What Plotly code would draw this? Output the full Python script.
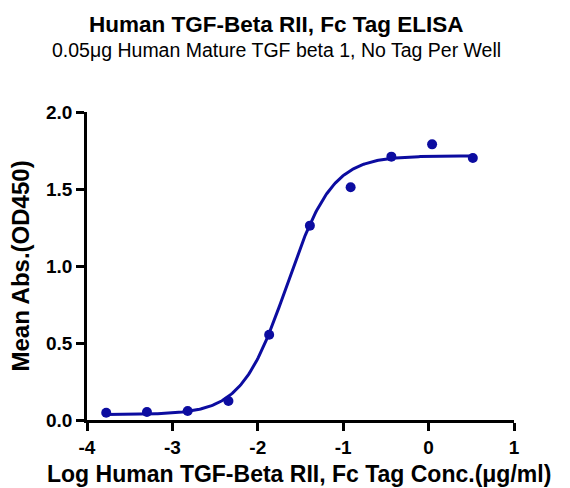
import numpy as np
import plotly.graph_objects as go

# Data
log_conc = [-3.775, -3.298, -2.821, -2.344, -1.867, -1.390, -0.913, -0.436, 0.041, 0.518]
mean_abs = [0.047, 0.052, 0.058, 0.123, 0.554, 1.262, 1.511, 1.710, 1.790, 1.701]

# 4-parameter logistic fit parameters (bottom, top, logEC50, hill slope)
fit_bottom = 0.035
fit_top = 1.715
fit_logec50 = -1.66
fit_hill = 1.64

x_ticks = [-4, -3, -2, -1, 0, 1]
y_ticks = [0.0, 0.5, 1.0, 1.5, 2.0]

title_text = "Human TGF-Beta RII, Fc Tag ELISA"
subtitle_text = "0.05μg Human Mature TGF beta 1, No Tag Per Well"
x_title = "Log Human TGF-Beta RII, Fc Tag Conc.(μg/ml)"
y_title = "Mean Abs.(OD450)"

xf = np.linspace(min(log_conc), max(log_conc), 300)
yf = fit_bottom + (fit_top - fit_bottom) / (1 + 10 ** ((fit_logec50 - xf) * fit_hill))

blue = "#0c0ca0"
font_family = "Liberation Sans, Arial, sans-serif"

fig = go.Figure()
fig.add_trace(go.Scatter(x=xf, y=yf, mode="lines",
                         line=dict(color=blue, width=3), hoverinfo="skip",
                         showlegend=False))
fig.add_trace(go.Scatter(x=log_conc, y=mean_abs, mode="markers",
                         marker=dict(color=blue, size=10),
                         showlegend=False, cliponaxis=False))

fig.update_layout(
    width=570, height=488,
    margin=dict(l=79, r=64, t=104, b=76),
    paper_bgcolor="white", plot_bgcolor="white",
    font=dict(family=font_family, color="black"),
    showlegend=False,
    annotations=[
        dict(text="<b>%s</b>" % title_text, x=0.443, y=1.284,
             xref="paper", yref="paper", xanchor="center", yanchor="middle",
             showarrow=False, font=dict(size=22.5, family=font_family, color="black")),
        dict(text=subtitle_text, x=0.443, y=1.200,
             xref="paper", yref="paper", xanchor="center", yanchor="middle",
             showarrow=False, font=dict(size=19.5, family=font_family, color="black")),
        dict(text="<b>%s</b>" % x_title, x=0.497, y=-0.176,
             xref="paper", yref="paper", xanchor="center", yanchor="middle",
             showarrow=False, font=dict(size=23, family=font_family, color="black")),
        dict(text="<b>%s</b>" % y_title, x=-0.158, y=0.5, textangle=-90,
             xref="paper", yref="paper", xanchor="center", yanchor="middle",
             showarrow=False, font=dict(size=24, family=font_family, color="black")),
    ],
)

fig.update_xaxes(
    range=[-4, 1], tickvals=x_ticks, ticktext=["<b>%d</b>" % v for v in x_ticks],
    showgrid=False, zeroline=False,
    showline=True, linecolor="black", linewidth=2.5,
    ticks="outside", ticklen=8, tickwidth=2.5, tickcolor="black",
    tickfont=dict(size=19, family=font_family, color="black"),
)
fig.update_yaxes(
    range=[0, 2], tickvals=y_ticks, ticktext=["<b>%.1f</b>" % v for v in y_ticks],
    showgrid=False, zeroline=False,
    showline=True, linecolor="black", linewidth=2.5,
    ticks="outside", ticklen=8, tickwidth=2.5, tickcolor="black",
    tickfont=dict(size=19, family=font_family, color="black"),
)

fig.write_html("out.html")
